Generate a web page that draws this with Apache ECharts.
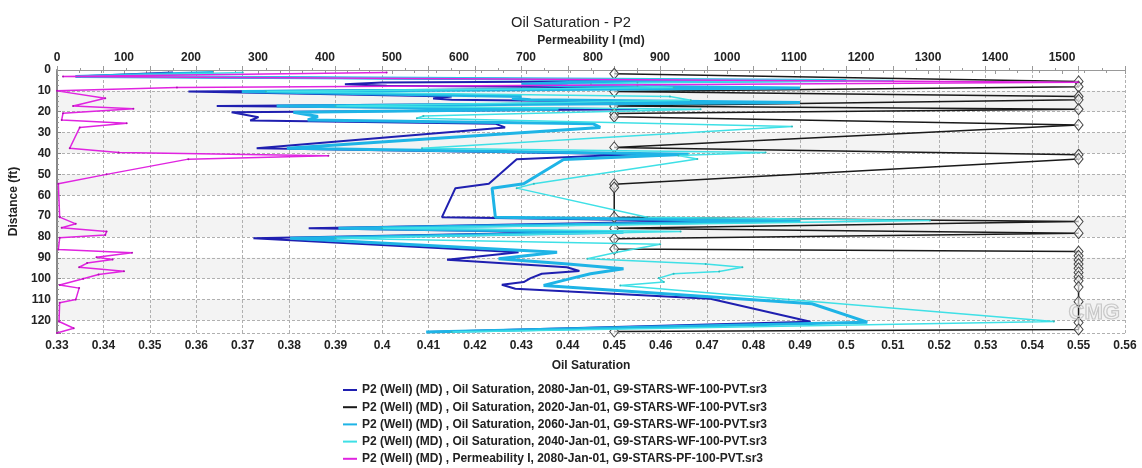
<!DOCTYPE html>
<html><head><meta charset="utf-8">
<script src="https://cdn.jsdelivr.net/npm/echarts@6/dist/echarts.min.js"></script>
<style>html,body{margin:0;padding:0;background:#fff}#c{width:1142px;height:468px}</style>
</head><body><div id="c"></div>
<script>
// ---- data ----
const seriesNames = [
  'P2 (Well) (MD) , Oil Saturation, 2080-Jan-01, G9-STARS-WF-100-PVT.sr3',
  'P2 (Well) (MD) , Oil Saturation, 2020-Jan-01, G9-STARS-WF-100-PVT.sr3',
  'P2 (Well) (MD) , Oil Saturation, 2060-Jan-01, G9-STARS-WF-100-PVT.sr3',
  'P2 (Well) (MD) , Oil Saturation, 2040-Jan-01, G9-STARS-WF-100-PVT.sr3',
  'P2 (Well) (MD) , Permeability I, 2080-Jan-01, G9-STARS-PF-100-PVT.sr3'
];
// 2080 oil saturation (depth ft / value)
const d2080 = [1.2,3.1,5.0,6.0,6.8,7.6,8.6,10.3,12.7,13.6,14.3,15.6,17.2,18.8,20.2,22.6,24.2,25.8,27.5,37.5,40.4,42.7,54.5,56.6,70.5,72.4,75.8,77.7,80.6,87.3,90.9,94.5,96.3,97.6,99.7,101.6,102.9,104.8,109.6,120.6,125.5];
const v2080 = [0.355,0.334,0.485,0.40,0.392,0.401,0.47,0.3583,0.415,0.411,0.415,0.47,0.3644,0.455,0.3676,0.3734,0.3716,0.4245,0.4265,0.373,0.455,0.429,0.423,0.4158,0.4129,0.47,0.3842,0.4406,0.3723,0.4294,0.414,0.4398,0.4425,0.4344,0.432,0.4305,0.4258,0.4287,0.4707,0.4923,0.41];
// 2020 oil saturation
const d2020 = [1.8,5.5,8,10.3,12.7,14.3,17.2,18.8,20.9,22.4,26.3,37.1,40.6,42.6,54.7,56.3,70.5,72.6,75.8,78.2,80.9,85.7,87,89,91,93,95,97,99,101,104,111,121,124.3,125.3];
const v2020 = [0.45,0.55,0.55,0.45,0.55,0.55,0.45,0.55,0.45,0.45,0.55,0.45,0.55,0.55,0.45,0.45,0.45,0.55,0.45,0.55,0.45,0.45,0.55,0.55,0.55,0.55,0.55,0.55,0.55,0.55,0.55,0.55,0.55,0.55,0.45];
// 2060 oil saturation
const d2060 = [1.2,3.1,5.0,6.0,6.8,7.6,8.6,10.3,12.7,13.6,14.3,15.6,17.2,18.8,20.2,22.3,23.9,25.8,27.5,37.5,40.4,42.9,54.5,56.6,70.5,72.4,75.8,77.7,80.6,87.3,90.4,92.9,95.2,97.6,99.7,103.2,112,120.8,125.5];
const v2060 = [0.3636,0.334,0.50,0.44,0.43,0.44,0.49,0.3698,0.43,0.428,0.432,0.49,0.3773,0.438,0.3809,0.3862,0.384,0.4455,0.447,0.3795,0.466,0.4391,0.4305,0.4237,0.4244,0.49,0.3906,0.452,0.3802,0.4377,0.4251,0.44,0.452,0.4449,0.441,0.4348,0.4926,0.5045,0.4095];
// 2040 oil saturation
const d2040 = [1.2,3.1,5.0,6.0,6.8,7.6,8.4,10.3,12.7,14.5,17.2,18.8,22.0,23.1,27.1,37.5,39.5,41.0,42.6,54.5,56.6,70.5,72.1,75.8,77.4,80.6,83.5,87.3,90.4,92.9,94.5,96.5,97.6,99.7,101.6,103.2,110,120.5,125.5];
const v2040 = [0.37,0.335,0.51,0.455,0.445,0.455,0.4628,0.375,0.462,0.4665,0.39,0.4686,0.4089,0.4075,0.4883,0.4086,0.4826,0.4638,0.4679,0.4327,0.429,0.4571,0.518,0.40,0.4643,0.39,0.4599,0.4506,0.4442,0.4697,0.4776,0.4726,0.4628,0.4596,0.4607,0.4513,0.4876,0.5447,0.415];
// permeability (md)
const dPerm = [1.2,3.1,5.9,8.4,10.0,13.5,17.2,18.6,20.7,23.9,25.5,27.5,37.5,39.5,41.1,42.7,50,54.5,70.5,73.7,75.6,77.4,79,80.4,86,87.6,89.7,90.8,92.5,94.5,96.4,98,100,103,104.5,110,111.5,120.5,123.7,126];
const vPerm = [492,9,1524,179,0,72,24,114,9,7,104,34,19,92,405,196,74,2,4,28,7,74,72,4,2,112,59,83,45,33,100,62,39,4,33,28,4,3,25,0];

function pairs(v, d){ return v.map((x,i)=>[x, d[i]]); }

const FONT = 'Arial, "Liberation Sans", sans-serif';
const chart = echarts.init(document.getElementById('c'), null, {renderer:'canvas'});
const colors = ['#1f1fb0','#1a1a1a','#1eb4e6','#3fe0e6','#e024e0'];

chart.setOption({
  animation:false,
  color: colors,
  title:{text:'Oil Saturation - P2', left:'center', top:10,
    textStyle:{fontFamily:FONT, fontSize:14.7, fontWeight:'normal', color:'#222'}},
  grid:{left:57, right:17, top:70, bottom:135, containLabel:false},
  legend:{orient:'vertical', left:343, top:384, padding:0, itemGap:5.2, itemWidth:14, itemHeight:2, icon:'rect',
    textStyle:{fontFamily:FONT, fontSize:12, fontWeight:'bold', color:'#222'},
    data: seriesNames.map((n,i)=>({name:n, itemStyle:{color:colors[i], borderWidth:0, opacity:1}}))},
  xAxis:[{
    type:'value', position:'bottom', min:0.33, max:0.56, interval:0.01,
    name:'Oil Saturation', nameLocation:'middle', nameGap:27,
    nameTextStyle:{fontFamily:FONT, fontSize:12, fontWeight:'bold', color:'#222'},
    axisLine:{show:true, lineStyle:{color:'#999', width:1}},
    axisTick:{show:true, inside:true, length:4, lineStyle:{color:'#999'}},
    minorTick:{show:true, splitNumber:2, length:2, lineStyle:{color:'#999'}},
    axisLabel:{fontFamily:FONT, fontSize:12, fontWeight:'bold', color:'#222', margin:7},
    splitLine:{show:true, lineStyle:{color:'#b0b0b0', type:[3,2], width:1}}
  },{
    type:'value', position:'top', min:0, max:1594, interval:100,
    name:'Permeability I (md)', nameLocation:'middle', nameGap:23,
    nameTextStyle:{fontFamily:FONT, fontSize:12, fontWeight:'bold', color:'#222'},
    axisLine:{show:true, lineStyle:{color:'#999', width:1}},
    axisTick:{show:true, inside:true, length:4, lineStyle:{color:'#999'}},
    minorTick:{show:true, splitNumber:3, length:3, lineStyle:{color:'#999'}},
    axisLabel:{fontFamily:FONT, fontSize:12, fontWeight:'bold', color:'#222', margin:6, showMaxLabel:false,
      formatter:(v)=>String(Math.round(v))},
    splitLine:{show:false}
  }],
  yAxis:{
    type:'value', inverse:true, min:0, max:126, interval:10,
    name:'Distance (ft)', nameLocation:'middle', nameGap:33, nameRotate:90,
    nameTextStyle:{fontFamily:FONT, fontSize:12, fontWeight:'bold', color:'#222'},
    axisLine:{show:true, lineStyle:{color:'#888', width:2}},
    axisTick:{show:true, inside:true, length:4, lineStyle:{color:'#888'}},
    minorTick:{show:true, splitNumber:4, length:2, lineStyle:{color:'#999'}},
    axisLabel:{fontFamily:FONT, fontSize:12, fontWeight:'bold', color:'#222', margin:6, showMaxLabel:false},
    splitLine:{show:true, lineStyle:{color:'#b0b0b0', type:[3,2], width:1}},
    splitArea:{show:true, areaStyle:{color:['#ffffff','#f3f3f3']}}
  },
  graphic:[{type:'text', left:1068, top:301, z:100, silent:true,
    style:{text:'CMG', font:'bold 22px '+FONT, fill:'rgba(0,0,0,0)', stroke:'#c8c8c8', lineWidth:1.2}}],
  series:[
    {name:seriesNames[0], type:'line', xAxisIndex:0, data:pairs(v2080,d2080), symbol:'none',
      lineStyle:{width:2, color:colors[0]}, itemStyle:{color:colors[0]}, z:2},
    {name:seriesNames[1], type:'line', xAxisIndex:0, data:pairs(v2020,d2020), symbol:'diamond', symbolSize:[9,11],
      lineStyle:{width:1.5, color:colors[1]}, itemStyle:{color:'rgba(255,255,255,0.6)', borderColor:'#444', borderWidth:1}, z:3},
    {name:seriesNames[2], type:'line', xAxisIndex:0, data:pairs(v2060,d2060), symbol:'none',
      lineStyle:{width:3, color:colors[2]}, itemStyle:{color:colors[2]}, z:4},
    {name:seriesNames[3], type:'line', xAxisIndex:0, data:pairs(v2040,d2040), symbol:'circle', symbolSize:2,
      lineStyle:{width:1.5, color:colors[3]}, itemStyle:{color:'#30b8b8'}, z:5},
    {name:seriesNames[4], type:'line', xAxisIndex:1, data:pairs(vPerm,dPerm), symbol:'circle', symbolSize:2,
      lineStyle:{width:1.5, color:colors[4]}, itemStyle:{color:'#b010b0'}, z:6}
  ]
});
</script></body></html>
